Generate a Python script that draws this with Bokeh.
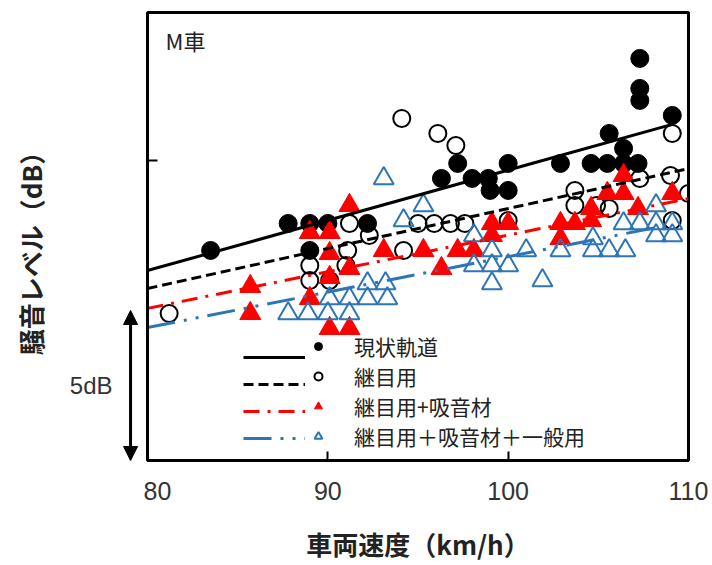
import math
from bokeh.plotting import figure
from bokeh.layouts import row
from bokeh.models import Range1d, FixedTicker, Legend, LegendItem, Label, Arrow, NormalHead
from bokeh.embed import file_html
from bokeh.resources import INLINE

# ---------------- data ----------------
series_names = ["現状軌道", "継目用", "継目用+吸音材", "継目用＋吸音材＋一般用"]

genjo_speed = [83.5, 87.8, 89.0, 90.0, 92.2, 89.0, 96.3, 97.2, 98.0, 98.9, 99.0, 100.0,
               100.0, 102.9, 104.6, 105.5, 105.6, 106.4, 106.4, 107.2, 107.3, 107.3, 107.3, 109.1]
genjo_level = [87.0, 87.9, 87.9, 87.9, 87.9, 87.0, 89.4, 89.9, 89.4, 89.4, 89.0, 89.9,
               89.0, 89.9, 89.9, 89.9, 90.9, 90.4, 89.9, 89.9, 93.4, 92.4, 92.0, 91.5]

tsugime_speed = [81.2, 94.1, 96.1, 97.1, 91.2, 92.3, 89.0, 91.1, 91.0, 89.0, 90.1, 94.2,
                 95.0, 95.9, 96.8, 97.6, 100.0, 103.7, 103.7, 104.9, 105.6, 107.3, 109.0,
                 109.1, 110.0, 109.1]
tsugime_level = [84.9, 91.4, 90.9, 90.5, 87.9, 87.5, 86.5, 87.0, 86.5, 86.0, 86.0, 87.0,
                 87.9, 87.9, 87.9, 87.9, 88.0, 89.0, 88.5, 88.5, 88.4, 89.4, 89.5,
                 90.9, 88.9, 88.0]

kyuon_speed = [85.7, 85.7, 91.2, 89.0, 90.1, 90.1, 91.2, 90.1, 89.0, 90.1, 91.2, 93.1,
               95.3, 96.3, 97.2, 98.1, 99.1, 99.1, 100.0, 102.9, 102.9, 103.7, 104.6,
               104.6, 105.5, 106.4, 106.4, 107.2, 109.1]
kyuon_level = [85.8, 84.9, 88.5, 87.6, 87.6, 86.9, 86.4, 86.1, 85.4, 84.4, 84.4, 87.0,
               87.0, 86.4, 87.0, 87.0, 87.5, 87.9, 87.9, 87.9, 87.4, 87.9, 88.4,
               88.0, 88.9, 88.9, 89.5, 88.4, 88.9]

ippan_speed = [93.1, 87.8, 88.9, 90.0, 91.2, 90.1, 91.2, 92.2, 93.3, 92.2, 93.2, 94.2,
               95.3, 98.1, 99.1, 98.1, 99.1, 100.0, 99.1, 101.0, 101.9, 102.9, 104.7,
               104.7, 105.6, 106.5, 106.4, 107.3, 108.2, 108.2, 109.1, 108.2, 109.1]
ippan_level = [89.4, 84.9, 84.9, 84.9, 84.9, 85.4, 85.4, 85.4, 85.4, 85.9, 85.9, 88.0,
               88.5, 87.5, 87.0, 86.5, 86.5, 86.5, 85.9, 87.0, 86.0, 87.0, 87.4,
               87.0, 87.0, 87.0, 87.9, 87.9, 88.5, 87.9, 87.9, 87.5, 87.5]

# fitted trend lines (end points)
fit_genjo_x, fit_genjo_y = [80.0, 109.1], [86.33, 91.2]
fit_tsugime_x, fit_tsugime_y = [80.0, 110.0], [85.73, 89.73]
fit_kyuon_x, fit_kyuon_y = [80.0, 110.0], [85.07, 88.73]
fit_ippan_x, fit_ippan_y = [80.0, 109.1], [84.43, 87.87]

x_ticks = [80, 90, 100, 110]
x_tick_labels = ["80", "90", "100", "110"]
y_ticks = [80, 90]
scale_bar_db = [80.0, 85.0]
scale_bar_speed = 79.06
scale_bar_text = "5dB"
panel_label = "M車"
x_title = "車両速度（km/h）"
y_title = "騒音レベル（dB）"

JP = "Noto Sans CJK JP"
LAT = "Liberation Sans"
BLUE = "#2E75B6"
RED = "#FF0000"

# ---------------- layout constants ----------------
FRAME_W = 541          # px for 30 km/h
PX_PER_KMH = FRAME_W / 30.0
LEFT_W = 143           # left strip (title + scale bar)
MAIN_BL = 4            # main figure left border
H = 565
TOP = 12
BOTTOM = 105

y_rng = Range1d(80, 94.93)

# ---------------- main figure ----------------
p = figure(width=MAIN_BL + FRAME_W + 20, height=H, x_range=Range1d(80, 110), y_range=y_rng,
           output_backend="svg", toolbar_location=None,
           min_border_left=MAIN_BL, min_border_right=20, min_border_top=TOP, min_border_bottom=BOTTOM)
p.grid.visible = False
p.background_fill_color = "white"
p.border_fill_color = "white"
p.outline_line_color = "black"
p.outline_line_width = 3

xa = p.xaxis[0]
xa.ticker = FixedTicker(ticks=x_ticks)
xa.major_label_overrides = {t: s for t, s in zip(x_ticks, x_tick_labels)}
xa.axis_line_width = 3
xa.major_tick_in = 9
xa.major_tick_out = 0
xa.major_tick_line_width = 2
xa.minor_tick_line_color = None
xa.major_label_text_font = LAT
xa.major_label_text_font_size = "25px"
xa.major_label_text_color = "#333333"
xa.major_label_standoff = 21
xa.axis_label = x_title
xa.axis_label_text_font = JP
xa.axis_label_text_font_size = "26px"
xa.axis_label_text_font_style = "bold"
xa.axis_label_text_color = "#222222"
xa.axis_label_standoff = 22

ya = p.yaxis[0]
ya.ticker = FixedTicker(ticks=y_ticks)
ya.major_label_overrides = {t: "" for t in y_ticks}
ya.axis_line_width = 3
ya.major_tick_in = 10
ya.major_tick_out = 0
ya.major_tick_line_width = 2
ya.minor_tick_line_color = None
ya.major_label_standoff = 0

r_genjo = p.scatter(genjo_speed, genjo_level, marker="circle", size=18,
                    fill_color="black", line_color="black")
r_tsugime = p.scatter(tsugime_speed, tsugime_level, marker="circle", size=17,
                      fill_alpha=0, line_color="black", line_width=2)
r_kyuon = p.scatter(kyuon_speed, kyuon_level, marker="triangle", size=21,
                    fill_color=RED, line_color=RED)
r_ippan = p.scatter(ippan_speed, ippan_level, marker="triangle", size=20,
                    fill_alpha=0, line_color=BLUE, line_width=2)

l_genjo = p.line(fit_genjo_x, fit_genjo_y, line_color="black", line_width=3)
l_tsugime = p.line(fit_tsugime_x, fit_tsugime_y, line_color="black", line_width=3, line_dash="10 5")
l_kyuon = p.line(fit_kyuon_x, fit_kyuon_y, line_color=RED, line_width=3, line_dash="16 8 3 8")
l_ippan = p.line(fit_ippan_x, fit_ippan_y, line_color=BLUE, line_width=3, line_dash="28 9 3 9 3 9")

leg_kw = dict(glyph_height=20, label_height=27, spacing=0, padding=0, margin=0,
              background_fill_alpha=0, border_line_alpha=0,
              label_text_font=JP, label_text_font_size="21px", label_text_line_height=0.9)
# line samples (blank labels; rows forced to the same height as the marker legend)
legend_lines = Legend(items=[LegendItem(label=" ", renderers=[r]) for r in
                             [l_genjo, l_tsugime, l_kyuon, l_ippan]],
                      location=(96, 9), glyph_width=62, label_standoff=0, label_width=0, **leg_kw)
legend_marks = Legend(items=[LegendItem(label=n, renderers=[r]) for n, r in
                             zip(series_names, [r_genjo, r_tsugime, r_kyuon, r_ippan])],
                      location=(161, 9), glyph_width=20, label_standoff=26,
                      label_text_color="#222222", **leg_kw)
p.add_layout(legend_lines)
p.add_layout(legend_marks)

p.add_layout(Label(x=81.0, y=94.0, text=panel_label, text_align="left", text_baseline="middle",
                   text_font=JP, text_font_size="22px", text_color="#222222"))

# ---------------- left strip: y title + 5 dB scale bar ----------------
x_left_end = 80 - MAIN_BL / PX_PER_KMH
x_left_start = x_left_end - LEFT_W / PX_PER_KMH
q = figure(width=LEFT_W, height=H, x_range=Range1d(x_left_start, x_left_end), y_range=y_rng,
           output_backend="svg", toolbar_location=None,
           x_axis_location=None, y_axis_location=None,
           min_border_left=0, min_border_right=0, min_border_top=TOP, min_border_bottom=BOTTOM)
q.grid.visible = False
q.outline_line_color = None
q.background_fill_color = "white"
q.border_fill_color = "white"

head = dict(size=14, fill_color="black", line_color="black")
q.add_layout(Arrow(start=NormalHead(**head), end=NormalHead(**head),
                   x_start=scale_bar_speed, y_start=scale_bar_db[0],
                   x_end=scale_bar_speed, y_end=scale_bar_db[1],
                   line_width=3, line_color="black"))
q.add_layout(Label(x=scale_bar_speed, y=sum(scale_bar_db) / 2, x_offset=-18,
                   text=scale_bar_text, text_align="right", text_baseline="middle",
                   text_font=LAT, text_font_size="24px", text_color="#333333"))
q.add_layout(Label(x=x_left_start + 30 / PX_PER_KMH, y=(y_rng.start + y_rng.end) / 2 - 0.35,
                   text=y_title, angle=math.pi / 2, text_align="center", text_baseline="middle",
                   text_font=JP, text_font_size="26px", text_font_style="bold",
                   text_color="#222222"))

layout = row(q, p, spacing=0)
open("out.html", "w").write(file_html(layout, INLINE))
